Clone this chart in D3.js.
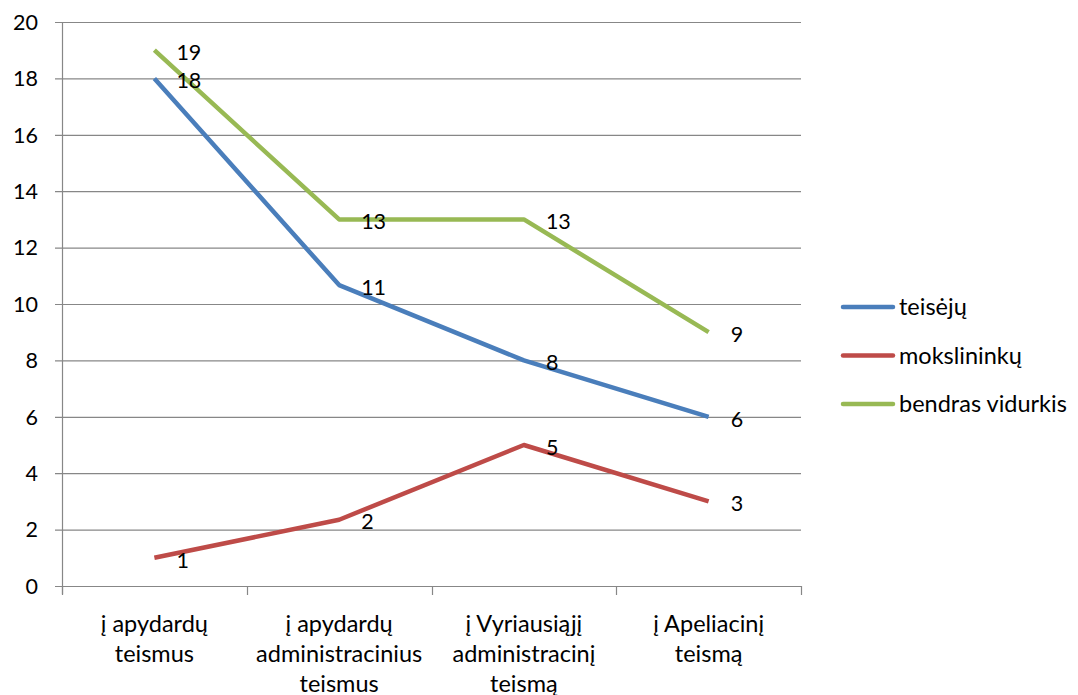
<!DOCTYPE html>
<html><head><meta charset="utf-8">
<script src="https://cdn.jsdelivr.net/npm/d3@7"></script>
<style>body{margin:0;background:#fff}svg{display:block}text{font-family:Lato,"Open Sans",sans-serif;fill:#000}</style>
</head><body><svg id="c" width="1078" height="695"></svg>
<script>
const categories = [["į apydardų","teismus"],["į apydardų","administracinius","teismus"],["į Vyriausiąjį","administracinį","teismą"],["į Apeliacinį","teismą"]];
const seriesNames = ["teisėjų","mokslininkų","bendras vidurkis"];
const teiseju = [18, 10.67, 8, 6];
const mokslininku = [1, 2.35, 5, 3];
const bendras = [19, 13, 13, 9];
const labelsTeiseju = ["18","11","8","6"];
const labelsMokslininku = ["1","2","5","3"];
const labelsBendras = ["19","13","13","9"];
const yTicks = [0,2,4,6,8,10,12,14,16,18,20];
const colors = ["#4A7EBB","#BE4B48","#98B954"];

const series = [
  {name: seriesNames[0], values: teiseju, labels: labelsTeiseju, color: colors[0]},
  {name: seriesNames[1], values: mokslininku, labels: labelsMokslininku, color: colors[1]},
  {name: seriesNames[2], values: bendras, labels: labelsBendras, color: colors[2]}
];

const FN = 21.5, FT = 23.5;
const svg = d3.select("#c");
const L=62, R=801, T=22, B=586;
const x = d3.scaleBand().domain(d3.range(categories.length)).range([L,R]);
const y = d3.scaleLinear().domain([0,20]).range([B,T]);
const grid = "#878787";

svg.append("g").selectAll("line").data(yTicks).join("line")
  .attr("x1",L-7).attr("x2",R).attr("y1",d=>y(d)+0.5).attr("y2",d=>y(d)+0.5)
  .attr("stroke",grid).attr("stroke-width",1.2);
svg.append("line").attr("x1",L+0.5).attr("x2",L+0.5).attr("y1",T).attr("y2",B+8).attr("stroke",grid).attr("stroke-width",1.2);
svg.append("g").selectAll("text").data(yTicks).join("text")
  .attr("x",L-24).attr("y",d=>y(d)).attr("dy","0.36em").attr("text-anchor","end")
  .attr("font-size",FN).text(d=>d);
const xt = [L, ...d3.range(categories.length).map(i=>x(i)+x.bandwidth())];
svg.append("g").selectAll("line").data(xt).join("line")
  .attr("x1",d=>Math.round(d)+0.5).attr("x2",d=>Math.round(d)+0.5).attr("y1",B).attr("y2",B+9)
  .attr("stroke",grid).attr("stroke-width",1.2);
const cl = svg.append("g").selectAll("text").data(categories).join("text")
  .attr("text-anchor","middle").attr("font-size",FT)
  .attr("transform",(d,i)=>`translate(${x(i)+x.bandwidth()/2},${624})`);
cl.selectAll("tspan").data(d=>d).join("tspan")
  .attr("x",0).attr("y",(d,j)=>j*30).attr("dy","0.36em").text(d=>d);

const line = d3.line().x((d,i)=>x(i)+x.bandwidth()/2).y(d=>y(d));
series.forEach(s=>{
  svg.append("path").datum(s.values).attr("d",line).attr("fill","none")
    .attr("stroke",s.color).attr("stroke-width",4.5).attr("stroke-linejoin","round");
});
series.forEach(s=>{
  svg.append("g").selectAll("text").data(s.values).join("text")
    .attr("x",(d,i)=>x(i)+x.bandwidth()/2+22).attr("y",d=>y(d)+2).attr("dy","0.36em")
    .attr("font-size",FN).text((d,i)=>s.labels[i]);
});
const lg = svg.append("g").selectAll("g").data(series).join("g")
  .attr("transform",(d,i)=>`translate(843,${307+i*48.5})`);
lg.append("line").attr("x1",0).attr("x2",50).attr("y1",0).attr("y2",0)
  .attr("stroke",d=>d.color).attr("stroke-width",4.5).attr("stroke-linecap","round");
lg.append("text").attr("x",56).attr("y",0).attr("dy","0.36em").attr("font-size",FT).text(d=>d.name);
</script></body></html>
